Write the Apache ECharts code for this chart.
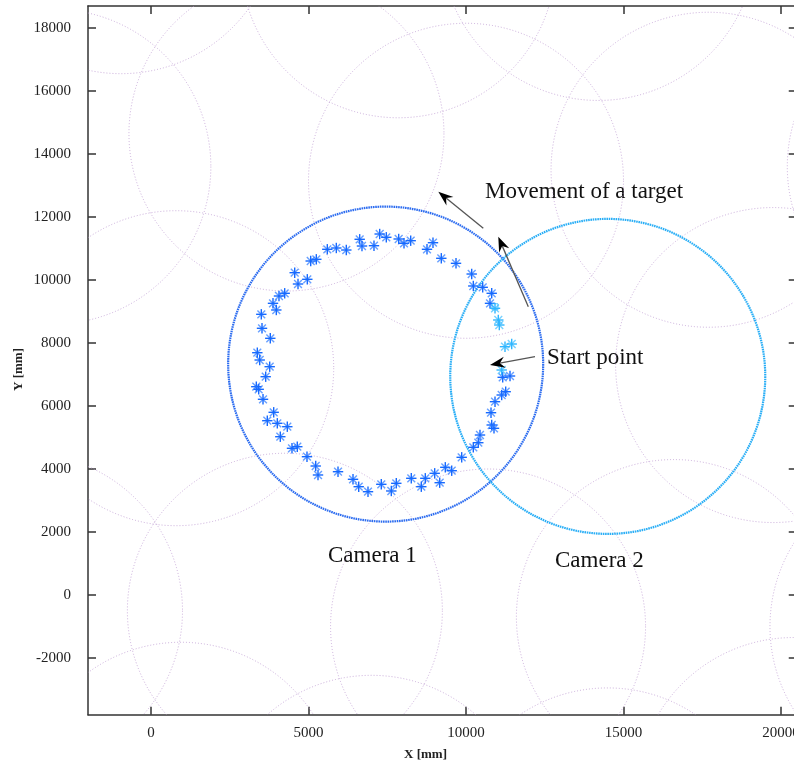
<!DOCTYPE html>
<html>
<head>
<meta charset="utf-8">
<script src="https://cdn.jsdelivr.net/npm/echarts@6/dist/echarts.min.js"></script>
<style>
  html, body { margin: 0; padding: 0; background: #ffffff; }
  #chart { width: 794px; height: 767px; }
</style>
</head>
<body>
<div id="chart"></div>
<script>
// Coverage radius of every camera (mm)
const coverRadius = 5000;

// Centres of the surrounding cameras (mm)
const otherCamX = [-3100, 4300, 10000, 17700, 25200, 19750, 7850, 14200, -950, 800, -4000, 4250, 10700, 16600, 24650, 950, 7000, 14500, 20400];
const otherCamY = [13600, 14650, 13150, 13500, 13600, 7300, 20150, 20700, 21550, 7200, -500, -500, -1000, -700, -1000, -6500, -7550, -7950, -6350];

// The two cameras that observe the target (mm)
const camNames = ['Camera 1', 'Camera 2'];
const camX = [7450, 14500];
const camY = [7330, 6940];

// Target positions observed by camera 1 (mm)
const track1X = [7260, 7470, 7863, 8032, 8244, 6625, 6698, 7079, 8762, 8952, 9216, 5597, 5883, 6200, 5070, 5248, 4562, 4667, 4962, 4244, 4063, 3873, 3978, 3502, 3524, 3787, 3375, 3451, 3768, 3641, 3343, 3419, 3556, 3895, 3692, 4010, 4327, 4105, 4476, 4644, 4952, 5229, 5302, 5937, 6413, 6594, 6889, 7311, 7629, 7787, 8263, 8581, 8708, 9006, 9165, 9343, 9546, 9863, 10232, 10390, 10444, 10816, 10889, 10794, 10921, 11133, 11260, 11165, 11397, 9683, 10181, 10232, 10530, 10816, 10762];
const track1Y = [11460, 11356, 11302, 11165, 11248, 11292, 11079, 11089, 10975, 11184, 10689, 10975, 11016, 10952, 10603, 10657, 10232, 9873, 10022, 9578, 9492, 9260, 9048, 8911, 8467, 8149, 7692, 7460, 7248, 6930, 6613, 6530, 6213, 5800, 5533, 5451, 5343, 5025, 4657, 4708, 4390, 4095, 3810, 3914, 3673, 3438, 3279, 3514, 3302, 3546, 3705, 3438, 3705, 3863, 3565, 4054, 3946, 4371, 4689, 4835, 5079, 5397, 5292, 5787, 6137, 6349, 6454, 6911, 6952, 10530, 10190, 9810, 9768, 9578, 9260];

// Target positions observed by camera 2 (mm)
const track2X = [10921, 11025, 11057, 11238, 11451, 11133];
const track2Y = [9102, 8730, 8571, 7883, 7968, 7143];

// Hand-over position marker (mm)
const handoverX = [10920];
const handoverY = [9150];

// Annotation arrows: tail -> head (mm)
const arrowX1 = [10549, 11978, 12190];
const arrowY1 = [11641, 9152, 7565];
const arrowX2 = [9121, 11025, 10762];
const arrowY2 = [12803, 11375, 7302];

// Tick positions
const xTicks = [0, 5000, 10000, 15000, 20000];
const yTicks = [-2000, 0, 2000, 4000, 6000, 8000, 10000, 12000, 14000, 16000, 18000];

const serif = '"Liberation Serif", "DejaVu Serif", serif';
const axisColor = '#333333';

function pairs(xs, ys) { return xs.map((x, i) => [x, ys[i]]); }

function clipRect(params) {
  const cs = params.coordSys;
  return { type: 'rect', shape: { x: cs.x, y: cs.y, width: cs.width, height: cs.height } };
}

// Coverage circles drawn through the axis scales
function circleSeries(name, xs, ys, style, z) {
  return {
    name, type: 'custom', coordinateSystem: 'cartesian2d', silent: true, z,
    data: pairs(xs, ys),
    encode: { x: 0, y: 1 },
    renderItem(params, api) {
      const c = api.coord([api.value(0), api.value(1)]);
      const r = api.size([coverRadius, 0])[0];
      return {
        type: 'group', clipPath: clipRect(params),
        children: [{ type: 'circle', shape: { cx: c[0], cy: c[1], r }, style: Object.assign({ fill: null }, style) }]
      };
    }
  };
}

// Asterisk markers for the detected positions
function starSeries(name, xs, ys, color, light) {
  return {
    name, type: 'custom', coordinateSystem: 'cartesian2d', silent: true, z: 5,
    data: pairs(xs, ys),
    encode: { x: 0, y: 1 },
    renderItem(params, api) {
      const c = api.coord([api.value(0), api.value(1)]);
      const a = 5.2, d = 3.9;
      const seg = (x1, y1, x2, y2, col, w) => ({
        type: 'line',
        shape: { x1: c[0] + x1, y1: c[1] + y1, x2: c[0] + x2, y2: c[1] + y2 },
        style: { stroke: col, lineWidth: w }
      });
      return {
        type: 'group',
        children: [
          seg(-d, -d, d, d, light, 1.4),
          seg(-d, d, d, -d, light, 1.4),
          seg(-a, 0, a, 0, color, 1.4),
          seg(0, -a, 0, a, color, 1.4)
        ]
      };
    }
  };
}

// Annotation arrows with a notched head
function arrowSeries() {
  return {
    name: 'arrows', type: 'custom', coordinateSystem: 'cartesian2d', silent: true, z: 8,
    data: arrowX1.map((x, i) => [x, arrowY1[i], arrowX2[i], arrowY2[i]]),
    encode: { x: [0, 2], y: [1, 3] },
    renderItem(params, api) {
      const p1 = api.coord([api.value(0), api.value(1)]);
      const p2 = api.coord([api.value(2), api.value(3)]);
      const dx = p2[0] - p1[0], dy = p2[1] - p1[1];
      const len = Math.sqrt(dx * dx + dy * dy);
      const ux = dx / len, uy = dy / len, nx = -uy, ny = ux;
      const L = 15, W = 5.5, N = 10;
      const back = [p2[0] - ux * L, p2[1] - uy * L];
      const notch = [p2[0] - ux * N, p2[1] - uy * N];
      return {
        type: 'group',
        children: [
          { type: 'line', shape: { x1: p1[0], y1: p1[1], x2: notch[0], y2: notch[1] }, style: { stroke: '#555555', lineWidth: 1.3 } },
          { type: 'polygon', shape: { points: [p2, [back[0] + nx * W, back[1] + ny * W], notch, [back[0] - nx * W, back[1] - ny * W]] }, style: { fill: '#000000' } }
        ]
      };
    }
  };
}

const chart = echarts.init(document.getElementById('chart'), null, { renderer: 'canvas' });

const tickStyle = { color: axisColor, width: 1.5 };
const plainNumber = v => String(v);
const option = {
  backgroundColor: '#ffffff',
  animation: false,
  grid: { left: 88, top: 5.95, width: 708.75, height: 708.75, containLabel: false, outerBoundsMode: 'none' },
  xAxis: [
    {
      type: 'value', min: -2000, max: 20500, position: 'bottom',
      axisLine: { show: true, onZero: false, lineStyle: { color: axisColor, width: 1.5 } },
      axisTick: { show: true, inside: true, length: 8, customValues: xTicks, lineStyle: tickStyle },
      axisLabel: { customValues: xTicks, formatter: plainNumber, fontFamily: serif, fontSize: 15, color: '#222222', margin: 11 },
      splitLine: { show: false }
    },
    {
      type: 'value', min: -2000, max: 20500, position: 'top',
      axisLine: { show: true, onZero: false, lineStyle: { color: axisColor, width: 1.5 } },
      axisTick: { show: true, inside: true, length: 8, customValues: xTicks, lineStyle: tickStyle },
      axisLabel: { show: false },
      splitLine: { show: false }
    }
  ],
  yAxis: [
    {
      type: 'value', min: -3800, max: 18700, position: 'left',
      axisLine: { show: true, onZero: false, lineStyle: { color: axisColor, width: 1.5 } },
      axisTick: { show: true, inside: true, length: 8, customValues: yTicks, lineStyle: tickStyle },
      axisLabel: { customValues: yTicks, formatter: plainNumber, fontFamily: serif, fontSize: 15, color: '#222222', margin: 17 },
      splitLine: { show: false }
    },
    {
      type: 'value', min: -3800, max: 18700, position: 'right',
      axisLine: { show: true, onZero: false, lineStyle: { color: axisColor, width: 1.5 } },
      axisTick: { show: true, inside: true, length: 8, customValues: yTicks, lineStyle: tickStyle },
      axisLabel: { show: false },
      splitLine: { show: false }
    }
  ],
  series: [
    circleSeries('other cameras', otherCamX, otherCamY, { stroke: 'rgba(190,155,210,0.8)', lineWidth: 1, lineDash: [1, 2] }, 1),
    circleSeries(camNames[0], [camX[0]], [camY[0]], { stroke: '#2c6cf0', lineWidth: 2.2, lineDash: [1.6, 0.7] }, 3),
    circleSeries(camNames[1], [camX[1]], [camY[1]], { stroke: '#29aef6', lineWidth: 2.2, lineDash: [1.6, 0.7] }, 3),
    starSeries('camera 1 track', track1X, track1Y, '#1669ff', 'rgba(40,120,255,0.7)'),
    starSeries('camera 2 track', track2X, track2Y, '#2fb6ff', 'rgba(60,190,255,0.7)'),
    {
      name: 'hand-over', type: 'scatter', silent: true, z: 6,
      data: pairs(handoverX, handoverY),
      symbol: 'rect', symbolSize: 6,
      itemStyle: { color: 'rgba(0,0,0,0)', borderColor: '#2fb6ff', borderWidth: 1 }
    },
    arrowSeries()
  ],
  graphic: [
    { type: 'text', left: 485, top: 180, style: { text: 'Movement of a target', font: '23px ' + serif, fill: '#111111' } },
    { type: 'text', left: 547, top: 346, style: { text: 'Start point', font: '23px ' + serif, fill: '#111111' } },
    { type: 'text', left: 328, top: 544, style: { text: camNames[0], font: '23px ' + serif, fill: '#111111' } },
    { type: 'text', left: 555, top: 549, style: { text: camNames[1], font: '23px ' + serif, fill: '#111111' } },
    { type: 'text', left: 404, top: 748, style: { text: 'X [mm]', font: 'bold 13px ' + serif, fill: '#222222' } },
    { type: 'text', left: 12, top: 348, rotation: Math.PI / 2, style: { text: 'Y [mm]', font: 'bold 13px ' + serif, fill: '#222222' } }
  ]
};

chart.setOption(option);
</script>
</body>
</html>
